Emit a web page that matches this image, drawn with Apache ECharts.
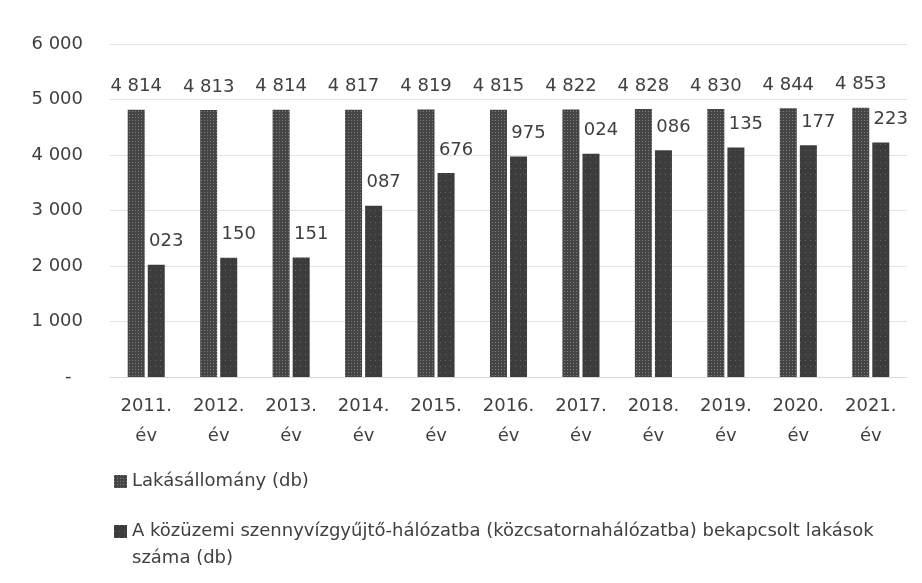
<!DOCTYPE html>
<html>
<head>
<meta charset="utf-8">
<script src="https://cdn.jsdelivr.net/npm/echarts@6/dist/echarts.min.js"></script>
<style>
html,body{margin:0;padding:0;background:#fff;}
#chart{width:922px;height:583px;}
</style>
</head>
<body>
<div id="chart"></div>
<script>
var categories = ['2011.\név','2012.\név','2013.\név','2014.\név','2015.\név','2016.\név','2017.\név','2018.\név','2019.\név','2020.\név','2021.\név'];
var seriesNames = ['Lakásállomány (db)', 'A közüzemi szennyvízgyűjtő-hálózatba (közcsatornahálózatba) bekapcsolt lakások száma (db)'];
var lakasallomany = [4814,4813,4814,4817,4819,4815,4822,4828,4830,4844,4853];
var bekapcsolt = [2023,2150,2151,3087,3676,3975,4024,4086,4135,4177,4223];
var yMin = 0, yMax = 6000, yStep = 1000;

function thousands(v){ return String(v).replace(/\B(?=(\d{3})+(?!\d))/g, ' '); }
function lastThree(v){ var s = String(v % 1000); while (s.length < 3) s = '0' + s; return s; }

var FONT = 'DejaVu Sans';
var TXT = '#404040';

var chart = echarts.init(document.getElementById('chart'), null, {renderer:'canvas'});
chart.setOption({
  animation: false,
  backgroundColor: '#ffffff',
  textStyle: {fontFamily: FONT, color: TXT},
  grid: {left: 110, right: 15, top: 44, bottom: 206, containLabel: false},
  xAxis: {
    type: 'category',
    data: categories,
    axisLine: {show: true, lineStyle: {color: '#d9d9d9', width: 1}},
    axisTick: {show: false},
    axisLabel: {fontFamily: FONT, fontSize: 18, color: TXT, margin: 14, lineHeight: 30, interval: 0}
  },
  yAxis: {
    type: 'value',
    min: yMin, max: yMax, interval: yStep,
    axisLine: {show: false},
    axisTick: {show: false},
    splitLine: {lineStyle: {color: '#e3e3e3', width: 1}},
    axisLabel: {
      fontFamily: FONT, fontSize: 18, color: TXT, margin: 27,
      formatter: function(v){ return v === 0 ? '-  ' : thousands(v); }
    }
  },
  legend: [
    {
      orient: 'vertical',
      left: 114, top: 468,
      padding: 0,
      itemWidth: 13, itemHeight: 13,
      icon: 'rect',
      selectedMode: false,
      textStyle: {fontFamily: FONT, fontSize: 18, color: TXT, lineHeight: 27},
      data: [{name: seriesNames[0]}]
    },
    {
      orient: 'vertical',
      left: 114, top: 491,
      padding: 0,
      itemWidth: 13, itemHeight: 13,
      icon: 'rect',
      selectedMode: false,
      formatter: function(name){ return '\n' + name.replace(' száma', '\nszáma'); },
      textStyle: {fontFamily: FONT, fontSize: 18, color: TXT, lineHeight: 27},
      data: [{name: seriesNames[1]}]
    }
  ],
  series: [
    {
      name: seriesNames[0],
      type: 'bar',
      data: lakasallomany,
      barWidth: 17,
      barGap: '18%',
      itemStyle: {
        color: '#454545',
        decal: {symbol: 'rect', symbolSize: 1, color: 'rgba(255,255,255,0.3)', dashArrayX: [1, 2], dashArrayY: [1, 2], rotation: 0}
      },
      label: {
        show: true, position: 'top', distance: 14,
        fontFamily: FONT, fontSize: 18, color: TXT,
        formatter: function(p){ return thousands(p.value); }
      }
    },
    {
      name: seriesNames[1],
      type: 'bar',
      data: bekapcsolt,
      barWidth: 17,
      itemStyle: {
        color: '#3c3c3c',
        decal: {symbol: 'rect', symbolSize: 1, color: 'rgba(255,255,255,0.22)', dashArrayX: [1, 4], dashArrayY: [1, 5], rotation: 0}
      },
      label: {
        show: true, position: 'top', distance: 14, offset: [10, 0],
        fontFamily: FONT, fontSize: 18, color: TXT,
        formatter: function(p){ return lastThree(p.value); }
      }
    }
  ]
});
</script>
</body>
</html>
